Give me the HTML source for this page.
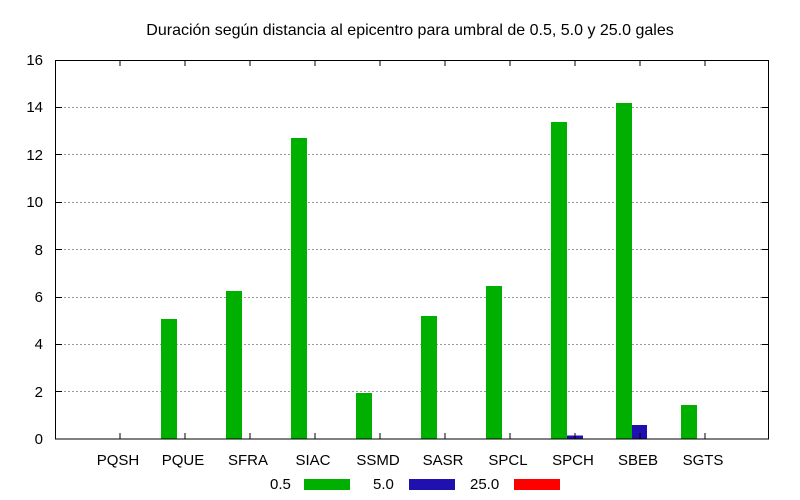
<!DOCTYPE html><html><head><style>body{margin:0;background:#fff}svg{display:block}text{font-family:"Liberation Sans",sans-serif;font-size:15px;fill:#000}</style></head><body>
<svg width="800" height="500" xmlns="http://www.w3.org/2000/svg">
<text x="410" y="35" text-anchor="middle" style="font-size:16px">Duración según distancia al epicentro para umbral de 0.5, 5.0 y 25.0 gales</text>
<g stroke="#999" stroke-dasharray="2,2" stroke-width="1">
<line x1="56" x2="768" y1="107.5" y2="107.5"/><line x1="56" x2="768" y1="154.5" y2="154.5"/><line x1="56" x2="768" y1="202.5" y2="202.5"/><line x1="56" x2="768" y1="249.5" y2="249.5"/><line x1="56" x2="768" y1="297.5" y2="297.5"/><line x1="56" x2="768" y1="344.5" y2="344.5"/><line x1="56" x2="768" y1="391.5" y2="391.5"/>
</g>
<g text-anchor="end"><text x="43" y="65">16</text><text x="43" y="112">14</text><text x="43" y="160">12</text><text x="43" y="207">10</text><text x="43" y="255">8</text><text x="43" y="302">6</text><text x="43" y="349">4</text><text x="43" y="397">2</text><text x="43" y="444">0</text></g>
<g fill="#00b000">
<rect x="161" y="319" width="16" height="120"/><rect x="226" y="291" width="16" height="148"/><rect x="291" y="138" width="16" height="301"/><rect x="356" y="393" width="16" height="46"/><rect x="421" y="316" width="16" height="123"/><rect x="486" y="286" width="16" height="153"/><rect x="551" y="122" width="16" height="317"/><rect x="616" y="103" width="16" height="336"/><rect x="681" y="405" width="16" height="34"/>
</g>
<g fill="#2010b0"><rect x="567" y="435.5" width="16" height="4"/><rect x="632" y="425" width="15" height="14"/></g>
<g stroke="#000" stroke-width="1">
<path d="M120 60v6M185 60v6M250 60v6M315 60v6M380 60v6M445 60v6M510 60v6M575 60v6M640 60v6M705 60v6M120 439v-6M185 439v-6M250 439v-6M315 439v-6M380 439v-6M445 439v-6M510 439v-6M575 439v-6M640 439v-6M705 439v-6M56 107.5h6M56 154.5h6M56 202.5h6M56 249.5h6M56 297.5h6M56 344.5h6M56 391.5h6M768 107.5h-6M768 154.5h-6M768 202.5h-6M768 249.5h-6M768 297.5h-6M768 344.5h-6M768 391.5h-6"/>
<rect x="55.5" y="60.5" width="713" height="378.5" fill="none"/>
</g>
<g text-anchor="middle"><text x="118" y="465">PQSH</text><text x="183" y="465">PQUE</text><text x="248" y="465">SFRA</text><text x="313" y="465">SIAC</text><text x="378" y="465">SSMD</text><text x="443" y="465">SASR</text><text x="508" y="465">SPCL</text><text x="573" y="465">SPCH</text><text x="638" y="465">SBEB</text><text x="703" y="465">SGTS</text></g>
<text x="270" y="489">0.5</text><rect x="304" y="479" width="46" height="11" fill="#00b000"/>
<text x="373" y="489">5.0</text><rect x="409" y="479" width="46" height="11" fill="#2010b0"/>
<text x="470" y="489">25.0</text><rect x="514" y="479" width="46" height="11" fill="#ff0000"/>
</svg></body></html>
